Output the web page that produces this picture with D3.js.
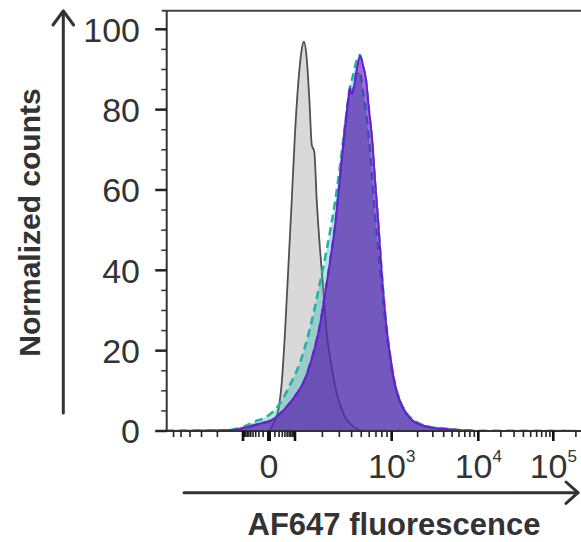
<!DOCTYPE html>
<html>
<head>
<meta charset="utf-8">
<script src="https://cdn.jsdelivr.net/npm/d3@7"></script>
<style>
  body { margin: 0; background: #fff; }
  svg { display: block; }
  text { font-family: "Liberation Sans", Arial, sans-serif; fill: #333; }
</style>
</head>
<body>
<svg id="chart" width="581" height="542"></svg>
<script>
// Fluorescence bins (AF647 intensity) shared by the stained samples
const sampleBins = [-1000, -165, -125, -85, -32, -12, 0, 12, 32, 65, 100, 114, 130, 147, 167, 189, 213, 240, 271, 305, 335, 368, 385, 404, 423, 453, 486, 521, 558, 597, 640, 685, 733, 803, 879, 1000, 1090, 1250, 1430, 1720, 2130, 2780, 4140, 6170, 10500, 200000];

// Normalized counts per sample
const tealCounts   = [0, 0.2, 0.5, 1.2, 2.4, 3.0, 4.0, 5.5, 8.0, 11.5, 14.0, 17.0, 21.0, 25.5, 31.0, 37.0, 43.0, 49.5, 57.0, 66.0, 74.0, 82.0, 85.5, 87.5, 89.5, 92.5, 93.6, 90.5, 87.0, 79.5, 72.5, 62.0, 52.5, 38.5, 27.0, 16.2, 11.8, 7.6, 5.0, 3.0, 1.8, 1.0, 0.6, 0.2, 0.0, 0];
const violetCounts = [0, 0.1, 0.3, 0.8, 1.5, 2.0, 2.4, 3.4, 5.0, 7.0, 8.7, 10.5, 13.0, 16.5, 21.0, 26.5, 34.0, 42.0, 51.0, 63.0, 73.0, 82.0, 85.3, 83.8, 85.7, 90.2, 93.4, 91.0, 87.5, 80.0, 73.0, 62.5, 52.8, 38.5, 27.0, 16.0, 11.5, 7.3, 4.8, 2.7, 1.6, 0.9, 0.5, 0.2, 0.0, 0];
const blueCounts   = [0, 0.1, 0.3, 0.8, 1.5, 2.0, 2.4, 3.4, 5.0, 7.0, 8.7, 10.5, 13.0, 16.5, 21.0, 26.5, 34.0, 42.0, 51.0, 63.0, 73.0, 82.0, 85.3, 83.8, 85.7, 89.5, 89.0, 84.5, 79.5, 72.5, 63.5, 53.5, 45.5, 35.0, 25.5, 15.5, 11.5, 7.3, 4.8, 2.7, 1.6, 0.9, 0.5, 0.2, 0.0, 0];

// Unstained control
const controlBins   = [-1000, 0, 7, 18, 28, 40, 56, 76, 100, 109, 119, 126, 135, 145, 154, 164, 174, 189, 202, 222, 250, 282, 330, 416, 524, 200000];
const controlCounts = [0, 0, 1.9, 5.2, 11.9, 24.3, 40.9, 57.5, 74.1, 86.6, 94.8, 96.9, 93.2, 82.4, 71.2, 69.5, 57.5, 45.1, 36.8, 24.3, 16.0, 9.4, 4.4, 1.1, 0.1, 0];

// Axis ticks and labels
const yMajorTicks = [0, 20, 40, 60, 80, 100];
const yMinorTicks = [5, 10, 15, 25, 30, 35, 45, 50, 55, 65, 70, 75, 85, 90, 95];
const xLabelTicks = [0, 1e3, 1e4, 1e5];
const xLabelBase = ["0", "10", "10", "10"];
const xLabelExp = ["", "3", "4", "5"];
const xMajorTicks = [-100, 0, 100, 1e3, 1e4, 1e5];
const xDecades = [10, 100, 1000, 10000, 100000];
const yTitle = "Normalized counts";
const xTitle = "AF647 fluorescence";

const svg = d3.select("#chart");
const plotLeft = 166.7, plotTop = 10.7, plotBottom = 431, plotRight = 581;

// Biexponential-style display axis: piecewise symlog between decades
const x = d3.scaleSymlog().constant(20)
  .domain([-1000, -100, 0, 100, 1000, 10000, 100000])
  .range([152.5, 243, 269, 295, 391.7, 478.3, 553.3]);
const y = d3.scaleLinear().domain([0, 100]).range([plotBottom, 29.3]);

const zip = (xs, ys) => xs.map((f, i) => ({ f, c: ys[i] }));
const control = zip(controlBins, controlCounts);
const teal = zip(sampleBins, tealCounts);
const violet = zip(sampleBins, violetCounts);
const blue = zip(sampleBins, blueCounts);

const curve = d3.curveMonotoneX;
const area = d3.area().curve(curve).x(d => x(d.f)).y0(y(0)).y1(d => y(d.c));
const line = d3.line().curve(curve).x(d => x(d.f)).y(d => y(d.c));

svg.append("clipPath").attr("id", "plot-clip")
  .append("rect").attr("x", plotLeft).attr("y", plotTop)
  .attr("width", plotRight - plotLeft + 20).attr("height", plotBottom - plotTop);

const g = svg.append("g").attr("clip-path", "url(#plot-clip)");

// control
g.append("path").datum(control).attr("d", area).attr("fill", "#d9d9d9");
g.append("path").datum(control).attr("d", line)
  .attr("fill", "none").attr("stroke", "#505050").attr("stroke-width", 1.8);

// teal sample
g.append("path").datum(teal).attr("d", area).attr("fill", "rgba(40,180,175,0.35)");
g.append("path").datum(teal).attr("d", line)
  .attr("fill", "none").attr("stroke", "#22b2ad").attr("stroke-width", 2.6)
  .attr("stroke-dasharray", "8,5");

// violet sample
g.append("path").datum(violet).attr("d", area).attr("fill", "rgba(87,28,174,0.7)");

// lighter band where the blue sample sits inside the violet one
const band = d3.area().curve(curve).x(d => x(d.f))
  .y0(d => y(d.b)).y1(d => y(Math.max(d.c, d.b)));
g.append("path")
  .datum(sampleBins.map((f, i) => ({ f, c: violetCounts[i], b: blueCounts[i] })))
  .attr("d", band).attr("fill", "#9c6fd8");

// blue sample
g.append("path").datum(blue).attr("d", line)
  .attr("fill", "none").attr("stroke", "#3d4fb6").attr("stroke-width", 2.4)
  .attr("stroke-dasharray", "8,6");

g.append("path").datum(violet).attr("d", line)
  .attr("fill", "none").attr("stroke", "#6a1ed2").attr("stroke-width", 2);

// frame
const axisColor = "#333";
svg.append("line").attr("x1", plotLeft - 5).attr("x2", plotRight).attr("y1", plotTop).attr("y2", plotTop)
  .attr("stroke", "#444").attr("stroke-width", 2);
svg.append("line").attr("x1", plotLeft).attr("x2", plotLeft).attr("y1", plotTop).attr("y2", plotBottom + 1)
  .attr("stroke", axisColor).attr("stroke-width", 2);
svg.append("line").attr("x1", plotLeft).attr("x2", plotRight).attr("y1", plotBottom).attr("y2", plotBottom)
  .attr("stroke", axisColor).attr("stroke-width", 2);

// y ticks
svg.append("g").selectAll("line").data(yMinorTicks).join("line")
  .attr("x1", plotLeft - 5.5).attr("x2", plotLeft).attr("y1", d => y(d)).attr("y2", d => y(d))
  .attr("stroke", axisColor).attr("stroke-width", 1.5);
svg.append("g").selectAll("line").data(yMajorTicks).join("line")
  .attr("x1", plotLeft - 11.5).attr("x2", plotLeft).attr("y1", d => y(d)).attr("y2", d => y(d))
  .attr("stroke", "#222").attr("stroke-width", 2.5);
svg.append("g").selectAll("text").data(yMajorTicks).join("text")
  .attr("x", 140).attr("y", d => y(d)).attr("dy", "0.36em")
  .attr("text-anchor", "end").attr("font-size", 34).text(d => d);

// x ticks
const mult = d3.range(1, 10);
const minorVals = xDecades.flatMap(d => mult.map(m => m * d));
const allMinor = minorVals.concat(minorVals.filter(v => v <= 1000).map(v => -v))
  .filter(v => x(v) >= plotLeft + 2 && x(v) <= plotRight);
svg.append("g").selectAll("line").data(allMinor).join("line")
  .attr("x1", d => x(d)).attr("x2", d => x(d)).attr("y1", plotBottom).attr("y2", plotBottom + 6)
  .attr("stroke", "#222").attr("stroke-width", 1.6);
svg.append("g").selectAll("line").data(xMajorTicks).join("line")
  .attr("x1", d => x(d)).attr("x2", d => x(d)).attr("y1", plotBottom).attr("y2", plotBottom + 10)
  .attr("stroke", "#111").attr("stroke-width", d => d === 0 ? 4 : 2.6);

const xl = svg.append("g").selectAll("text").data(xLabelTicks).join("text")
  .attr("x", d => x(d)).attr("y", 478).attr("text-anchor", "middle").attr("font-size", 34);
xl.append("tspan").text((d, i) => xLabelBase[i]);
xl.append("tspan").attr("font-size", 17).attr("dy", -16).text((d, i) => xLabelExp[i]);

// arrows and titles
const arrow = svg.append("g").attr("stroke", "#333").attr("stroke-width", 3)
  .attr("fill", "none").attr("stroke-linecap", "round").attr("stroke-linejoin", "round");
arrow.append("line").attr("x1", 63.3).attr("x2", 63.3).attr("y1", 413).attr("y2", 11);
arrow.append("polyline").attr("points", "53,25 63.3,11 73.6,25");
arrow.append("line").attr("x1", 184).attr("x2", 578).attr("y1", 492.7).attr("y2", 492.7);
arrow.append("polyline").attr("points", "566,482 578,492.7 566,503.4");

svg.append("text").attr("transform", "translate(40,222.5) rotate(-90)")
  .attr("text-anchor", "middle").attr("font-size", 30).attr("font-weight", "bold")
  .text(yTitle);
svg.append("text").attr("x", 394).attr("y", 535)
  .attr("text-anchor", "middle").attr("font-size", 31).attr("font-weight", "bold")
  .text(xTitle);
</script>
</body>
</html>
